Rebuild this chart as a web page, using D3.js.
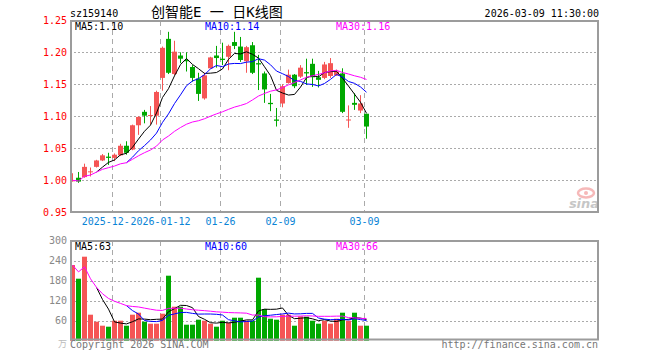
<!DOCTYPE html>
<html>
<head>
<meta charset="utf-8">
<script src="https://cdn.jsdelivr.net/npm/d3@7"></script>
<style>
body { margin: 0; background: #fff; }
text { font-family: "DejaVu Sans Mono", monospace; font-size: 10px; }
</style>
</head>
<body>
<svg id="chart" width="660" height="360"></svg>
<script>
// daily K data, sz159140
const dates = ["2025-12-18","2025-12-19","2025-12-22","2025-12-23","2025-12-24","2025-12-25","2025-12-26",
  "2025-12-29","2025-12-30","2025-12-31","2026-01-05","2026-01-06","2026-01-07","2026-01-08","2026-01-09",
  "2026-01-12","2026-01-13","2026-01-14","2026-01-15","2026-01-16","2026-01-19","2026-01-20","2026-01-21",
  "2026-01-22","2026-01-23","2026-01-26","2026-01-27","2026-01-28","2026-01-29","2026-01-30","2026-02-02",
  "2026-02-03","2026-02-04","2026-02-05","2026-02-06","2026-02-09","2026-02-10","2026-02-11","2026-02-12",
  "2026-02-13","2026-02-24","2026-02-25","2026-02-26","2026-02-27","2026-03-02","2026-03-03","2026-03-04",
  "2026-03-05","2026-03-06","2026-03-09"];
const opens = [0.999,1.004,1.005,1.013,1.021,1.031,1.037,1.035,1.039,1.054,1.048,1.086,1.107,1.101,1.101,
  1.160,1.221,1.166,1.195,1.188,1.177,1.159,1.128,1.175,1.195,1.190,1.193,1.216,1.209,1.186,1.211,
  1.183,1.167,1.121,1.095,1.120,1.152,1.165,1.162,1.169,1.182,1.161,1.160,1.163,1.164,1.167,1.094,
  1.121,1.109,1.104];
const highs = [1.011,1.013,1.026,1.020,1.032,1.041,1.043,1.042,1.057,1.061,1.087,1.100,1.110,1.116,1.140,
  1.209,1.232,1.218,1.200,1.200,1.180,1.168,1.168,1.193,1.210,1.215,1.212,1.232,1.224,1.210,1.216,
  1.196,1.170,1.135,1.113,1.150,1.173,1.166,1.180,1.190,1.190,1.171,1.185,1.191,1.173,1.175,1.117,
  1.136,1.133,1.104];
const lows = [0.998,0.996,1.004,1.006,1.020,1.030,1.024,1.030,1.038,1.040,1.047,1.071,1.089,1.087,1.087,
  1.140,1.166,1.164,1.183,1.170,1.154,1.124,1.126,1.175,1.176,1.180,1.172,1.205,1.185,1.168,1.166,
  1.141,1.121,1.108,1.084,1.114,1.151,1.144,1.160,1.149,1.146,1.145,1.158,1.160,1.163,1.105,1.082,
  1.110,1.105,1.065];
const closes = [1.000,0.998,1.021,1.014,1.031,1.039,1.035,1.040,1.054,1.043,1.086,1.099,1.101,1.102,1.138,
  1.207,1.168,1.201,1.190,1.186,1.160,1.135,1.164,1.192,1.191,1.188,1.210,1.210,1.188,1.208,1.168,
  1.181,1.142,1.119,1.093,1.147,1.165,1.147,1.176,1.167,1.161,1.157,1.181,1.183,1.170,1.107,1.095,
  1.118,1.120,1.084];
// volume, 万
const volumes = [227,186,252,78,57,45,42,60,60,45,78,84,57,51,51,
  81,195,102,102,48,48,63,60,51,42,60,54,69,69,60,60,
  189,95,66,63,78,78,45,73,72,60,51,60,51,66,84,60,
  84,45,45];

const priceTicks = [0.95, 1.00, 1.05, 1.10, 1.15, 1.20, 1.25];
const volTicks = [60, 120, 180, 240, 300];
const tickDates = ["2025-12-29", "2026-01-12", "2026-01-26", "2026-02-09", "2026-03-09"];
// the first label is partly hidden by the second one in the original, only "2025-12-" shows
const tickLabels = ["2025-12-", "2026-01-12", "01-26", "02-09", "03-09"];

const RED = "#f55555", GREEN = "#00a800";
const GRID = "#aaaaaa", FRAME = "#9c9c9c";

const svg = d3.select("#chart");
const left = 70, right = 598;

const x = d3.scaleBand().domain(dates).range([70, 370]).padding(0);
const y = d3.scaleLinear().domain([0.95, 1.25]).range([212.3, 20.3]);
const yv = d3.scaleLinear().domain([0, 300]).range([340.7, 240.7]);

function ma(arr, n, partial) {
  return arr.map((d, i) => {
    if (i < n - 1 && !partial) return null;
    const s = arr.slice(Math.max(0, i - n + 1), i + 1);
    return d3.mean(s);
  });
}
const cx = d => x(d) + 2.5;

// header
svg.append("text").attr("x", 70).attr("y", 16.5).text("sz159140");
svg.append("text").attr("x", 151).attr("y", 16.5)
  .style("font-family", "'DejaVu Sans Mono','Noto Sans CJK SC'").style("font-size", "14px")
  .text("创智能E 一 日K线图");
svg.append("text").attr("x", 599).attr("y", 16.5).attr("text-anchor", "end").text("2026-03-09 11:30:00");

function panelGrid(top, bottom, yVals, yScale) {
  const g = svg.append("g");
  g.selectAll("line.h").data(yVals).enter().append("line")
    .attr("x1", left).attr("x2", right)
    .attr("y1", d => Math.round(yScale(d)) + 0.5).attr("y2", d => Math.round(yScale(d)) + 0.5)
    .attr("stroke", GRID).attr("stroke-dasharray", "2,2");
  g.selectAll("line.v").data(tickDates).enter().append("line")
    .attr("x1", d => x(d) + 0.5).attr("x2", d => x(d) + 0.5)
    .attr("y1", top).attr("y2", bottom)
    .attr("stroke", GRID).attr("stroke-dasharray", "5,4");
}
panelGrid(21, 212, [1.00, 1.05, 1.10, 1.15, 1.20], y);
panelGrid(241, 339, [60, 120, 180, 240], yv);

// sina watermark
const logo = svg.append("g").attr("opacity", 0.55);
logo.append("ellipse").attr("cx", 586).attr("cy", 193).attr("rx", 8).attr("ry", 4.5)
  .attr("fill", "none").attr("stroke", "#f08080").attr("stroke-width", 2.5);
logo.append("circle").attr("cx", 586).attr("cy", 193).attr("r", 2).attr("fill", "#f08080");
logo.append("text").attr("x", 584).attr("y", 208).attr("text-anchor", "middle")
  .style("font-family", "'DejaVu Sans'").style("font-size", "13px").style("font-weight", "bold")
  .style("font-style", "italic").attr("fill", "#999").text("sina");

// candles
const idx = d3.range(dates.length);
const up = i => closes[i] >= opens[i];
const candles = svg.append("g");
candles.selectAll("line").data(idx).enter().append("line")
  .attr("x1", i => cx(dates[i])).attr("x2", i => cx(dates[i]))
  .attr("y1", i => y(highs[i])).attr("y2", i => y(lows[i]))
  .attr("stroke", i => up(i) ? RED : GREEN).attr("stroke-width", 1);
candles.selectAll("rect").data(idx).enter().append("rect")
  .attr("x", i => x(dates[i])).attr("width", x.bandwidth() - 1)
  .attr("y", i => y(Math.max(opens[i], closes[i])))
  .attr("height", i => Math.max(1, Math.abs(y(opens[i]) - y(closes[i]))))
  .attr("fill", i => up(i) ? RED : GREEN);

// volume bars
svg.append("g").selectAll("rect").data(idx).enter().append("rect")
  .attr("x", i => x(dates[i])).attr("width", x.bandwidth() - 1)
  .attr("y", i => yv(volumes[i])).attr("height", i => yv(0) - yv(volumes[i]))
  .attr("fill", i => up(i) ? RED : GREEN);

// moving averages
const maDefs = [
  { n: 5, color: "#000000", partial: false, lx: 75 },
  { n: 10, color: "#0000ff", partial: false, lx: 205 },
  { n: 30, color: "#ff00ff", partial: true, lx: 336 }
];
maDefs.forEach(m => {
  const pm = ma(closes, m.n, m.partial);
  const vm = ma(volumes, m.n, m.partial);
  const lineP = d3.line().defined(d => d[1] != null).x(d => cx(dates[d[0]])).y(d => y(d[1]));
  const lineV = d3.line().defined(d => d[1] != null).x(d => cx(dates[d[0]])).y(d => yv(d[1]));
  svg.append("path").attr("d", lineP(pm.map((v, i) => [i, v])))
    .attr("fill", "none").attr("stroke", m.color).attr("stroke-width", 1);
  svg.append("path").attr("d", lineV(vm.map((v, i) => [i, v])))
    .attr("fill", "none").attr("stroke", m.color).attr("stroke-width", 1);
  svg.append("text").attr("x", m.lx).attr("y", 30).attr("fill", m.color)
    .text("MA" + m.n + ":" + pm[pm.length - 1].toFixed(2));
  svg.append("text").attr("x", m.lx).attr("y", 250).attr("fill", m.color)
    .text("MA" + m.n + ":" + Math.floor(vm[vm.length - 1]));
});

// frames
svg.append("rect").attr("x", 71).attr("y", 21).attr("width", 527).attr("height", 191)
  .attr("fill", "none").attr("stroke", FRAME).attr("stroke-width", 2);
svg.append("rect").attr("x", 71).attr("y", 241).attr("width", 527).attr("height", 98.5)
  .attr("fill", "none").attr("stroke", FRAME).attr("stroke-width", 2);

// y axes
const ay = svg.append("g").attr("transform", "translate(70,0)")
  .call(d3.axisLeft(y).tickValues(priceTicks).tickFormat(d3.format(".2f")).tickSize(0).tickPadding(3));
ay.select(".domain").remove();
ay.selectAll("text").attr("fill", "#ff0000").style("font-family", "'DejaVu Sans Mono'").style("font-size", "10px");

const av = svg.append("g").attr("transform", "translate(70,0)")
  .call(d3.axisLeft(yv).tickValues(volTicks).tickFormat(d3.format("d")).tickSize(0).tickPadding(3));
av.select(".domain").remove();
av.selectAll("text").attr("fill", "#888").style("font-family", "'DejaVu Sans Mono'").style("font-size", "10px");
svg.append("text").attr("x", 67).attr("y", 347).attr("text-anchor", "end").attr("fill", "#bbb")
  .style("font-family", "'Noto Sans CJK SC'").style("font-size", "9px").text("万");

// x tick labels, centred on the date lines; the first one ends where the second begins
const charW = 6.02;
tickDates.forEach((d, k) => {
  const t = svg.append("text").attr("y", 225).attr("fill", "#0a84d6").text(tickLabels[k]);
  if (k === 0) {
    const nextLeft = x(tickDates[1]) + 0.5 - tickLabels[1].length * charW / 2;
    t.attr("x", nextLeft - 0.5).attr("text-anchor", "end");
  } else {
    t.attr("x", x(d) + 0.5).attr("text-anchor", "middle");
  }
});

// footer
svg.append("text").attr("x", 70).attr("y", 348).attr("fill", "#777").text("Copyright 2026 SINA.COM");
svg.append("text").attr("x", 598).attr("y", 348).attr("text-anchor", "end").attr("fill", "#777")
  .text("http://finance.sina.com.cn");
</script>
</body>
</html>
